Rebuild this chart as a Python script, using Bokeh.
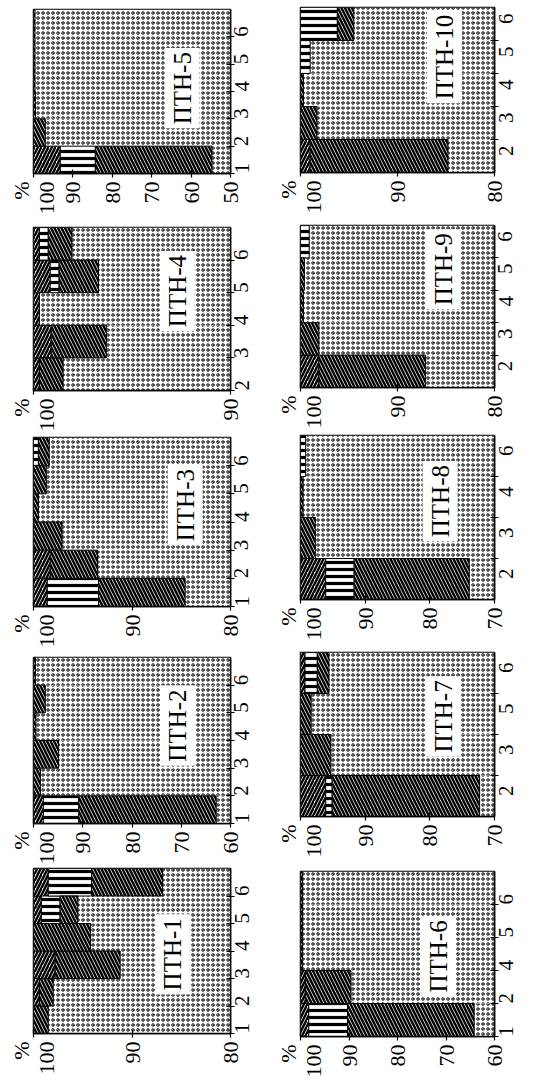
import math
from bokeh.plotting import figure
from bokeh.models import Range1d, FixedTicker, Label, ColumnDataSource
from bokeh.layouts import column, row
from bokeh.embed import file_html
from bokeh.resources import INLINE

# ---------------- data ----------------
PANEL_NAMES = ["ПТН-1", "ПТН-2", "ПТН-3", "ПТН-4", "ПТН-5",
               "ПТН-6", "ПТН-7", "ПТН-8", "ПТН-9", "ПТН-10"]

CATEGORIES = [
    ["1", "2", "3", "4", "5", "6"],   # ПТН-1
    ["1", "2", "3", "4", "5", "6"],   # ПТН-2
    ["1", "2", "3", "4", "5", "6"],   # ПТН-3
    ["2", "3", "4", "5", "6"],        # ПТН-4
    ["1", "2", "3", "4", "5", "6"],   # ПТН-5
    ["1", "2", "4", "5", "6"],        # ПТН-6
    ["2", "3", "5", "6"],             # ПТН-7
    ["2", "3", "4", "6"],             # ПТН-8
    ["2", "3", "4", "5", "6"],        # ПТН-9
    ["2", "3", "4", "5", "6"],        # ПТН-10
]

AXIS_MIN = [80, 60, 80, 90, 50, 60, 70, 70, 80, 80]
LABEL_CENTERED = [False, False, False, False, False, False, True, True, True, True]
UNIT = "%"

# share (%) of the "/" hatched component
SEG_SLASH = [
    [0.0, 0.6, 2.2, 0.0, 0.8, 1.5],
    [2.0, 0.0, 0.0, 0.0, 0.0, 0.0],
    [1.4, 1.7, 0.0, 0.0, 0.0, 0.0],
    [0.3, 0.9, 0.3, 0.85, 0.3],
    [6.8, 0.0, 0.0, 0.0, 0.0, 0.0],
    [1.7, 1.0, 0.0, 0.0, 0.0],
    [3.9, 0.0, 0.0, 0.7],
    [3.9, 0.0, 0.0, 0.0],
    [1.9, 0.0, 0.0, 0.0, 0.0],
    [1.0, 0.0, 0.0, 0.0, 0.0],
]
# share (%) of the striped component
SEG_STRIPE = [
    [0.0, 0.0, 0.0, 0.0, 1.9, 4.4],
    [7.2, 0.0, 0.0, 0.0, 0.0, 0.0],
    [5.2, 0.0, 0.0, 0.0, 0.0, 0.5],
    [0.0, 0.0, 0.0, 0.45, 0.45],
    [8.9, 0.0, 0.0, 0.0, 0.0, 0.0],
    [8.0, 0.0, 0.0, 0.0, 0.0],
    [1.0, 0.0, 0.0, 1.9],
    [4.4, 0.0, 0.0, 0.8],
    [0.0, 0.0, 0.0, 0.0, 0.9],
    [0.0, 0.0, 0.0, 1.0, 3.8],
]
# share (%) of the "\" hatched component
SEG_BACKSLASH = [
    [1.5, 1.4, 6.6, 5.8, 1.8, 7.2],
    [27.9, 1.4, 5.1, 0.5, 2.4, 0.4],
    [8.8, 4.8, 2.9, 0.5, 1.3, 1.1],
    [1.2, 2.8, 0.0, 2.0, 1.2],
    [29.6, 3.0, 0.5, 0.4, 0.4, 0.4],
    [26.1, 9.4, 0.4, 0.4, 0.4],
    [22.8, 4.7, 1.65, 1.8],
    [17.8, 2.3, 0.4, 0.0],
    [11.0, 1.9, 0.3, 0.4, 0.0],
    [14.2, 1.7, 0.3, 0.0, 1.7],
]

# ---------------- layout / style ----------------
FONT = "Liberation Serif"
# (frame_width, frame_height, border_left, border_right, border_top, border_bottom)
GEOM = [
    (197, 165, 33, 35, 1, 54),   # ПТН-1
    (197, 166, 33, 35, 5, 44),   # ПТН-2
    (197, 169, 33, 35, 3, 46),   # ПТН-3
    (197, 163, 33, 35, 5, 44),   # ПТН-4
    (197, 164, 33, 35, 9, 49),   # ПТН-5
    (194, 165, 35, 60, 5, 51),   # ПТН-6
    (194, 164, 35, 60, 5, 50),   # ПТН-7
    (194, 164, 35, 60, 3, 48),   # ПТН-8
    (194, 162, 35, 60, 5, 45),   # ПТН-9
    (194, 165, 35, 60, 7, 48),   # ПТН-10
]
# title position as fraction of the frame (from left, from bottom)
TITLE_POS = [(0.705, 0.48), (0.733, 0.59), (0.77, 0.60), (0.73, 0.61), (0.754, 0.52),
             (0.71, 0.485), (0.737, 0.61), (0.72, 0.60), (0.737, 0.73), (0.742, 0.70)]

STYLES = [
    dict(hatch_pattern="right_diagonal_line", hatch_scale=7, hatch_weight=2.5,
         line_color="black"),
    dict(hatch_pattern="horizontal_line", hatch_scale=7, hatch_weight=3.2,
         line_color="black"),
    dict(hatch_pattern="left_diagonal_line", hatch_scale=7, hatch_weight=2.5,
         line_color="black"),
    dict(hatch_pattern="ring", hatch_scale=5, hatch_weight=1.0, line_color=None),
]


def make_panel(k):
    cats = CATEGORIES[k]
    n = len(cats)
    vmin = AXIS_MIN[k]
    fw, fh, bl, br, bt, bb = GEOM[k]
    p = figure(frame_width=fw, frame_height=fh,
               x_range=Range1d(100, vmin), y_range=Range1d(0, n),
               output_backend="svg", toolbar_location=None,
               y_axis_location="right",
               min_border_left=bl, min_border_right=br,
               min_border_top=bt, min_border_bottom=bb)
    p.title.visible = False
    p.xgrid.visible = False
    p.ygrid.visible = False
    p.outline_line_color = "black"
    p.outline_line_width = 1.5
    p.outline_line_alpha = 1.0
    p.background_fill_color = "white"
    p.border_fill_color = "white"

    # stacked segments, starting from 100 % and going down
    segs = [dict(y=[], left=[], right=[]) for _ in range(4)]
    for i in range(n):
        start = 100.0
        parts = [SEG_SLASH[k][i], SEG_STRIPE[k][i], SEG_BACKSLASH[k][i]]
        for j, w in enumerate(parts):
            if w > 0:
                segs[j]["y"].append(i + 0.5)
                segs[j]["left"].append(start)
                segs[j]["right"].append(start - w)
                start -= w
        segs[3]["y"].append(i + 0.5)
        segs[3]["left"].append(start)
        segs[3]["right"].append(vmin)
    for j in [3, 0, 1, 2]:
        if not segs[j]["y"]:
            continue
        src = ColumnDataSource(segs[j])
        p.hbar(y="y", left="left", right="right", height=1.0, source=src,
               fill_color="white", hatch_color="black", hatch_alpha=1.0,
               line_width=1.0, **STYLES[j])

    # value axis (below)
    xa = p.xaxis[0]
    xticks = list(range(vmin, 101, 10))
    xa.ticker = FixedTicker(ticks=xticks, minor_ticks=[])
    xa.major_label_overrides = {100: UNIT + "\n100"}
    xa.major_label_orientation = math.pi / 2
    xa.major_label_text_font = FONT
    xa.major_label_text_font_size = "22px"
    xa.major_label_text_color = "black"
    xa.major_label_text_line_height = 1.0
    xa.major_label_standoff = 4
    xa.major_tick_in = 4
    xa.major_tick_out = 4
    xa.minor_tick_in = 0
    xa.minor_tick_out = 0
    xa.axis_line_width = 1.5
    xa.major_tick_line_width = 1.2

    # category axis (right)
    ya = p.yaxis[0]
    if LABEL_CENTERED[k]:
        ticks = [i + 0.5 for i in range(n)]
        ya.ticker = FixedTicker(ticks=ticks, minor_ticks=list(range(1, n)))
        ya.major_tick_in = 0
        ya.major_tick_out = 0
        ya.minor_tick_in = 4
        ya.minor_tick_out = 4
        ya.minor_tick_line_width = 1.2
    else:
        ticks = list(range(n))
        ya.ticker = FixedTicker(ticks=ticks, minor_ticks=[])
        ya.major_tick_in = 4
        ya.major_tick_out = 4
        ya.minor_tick_in = 0
        ya.minor_tick_out = 0
    ya.major_label_overrides = {t: c for t, c in zip(ticks, cats)}
    ya.major_label_orientation = math.pi / 2
    ya.major_label_text_font = FONT
    ya.major_label_text_font_size = "21px"
    ya.major_label_text_color = "black"
    ya.major_label_standoff = 7
    ya.axis_line_width = 1.5
    ya.major_tick_line_width = 1.2

    # panel name
    fx, fy = TITLE_POS[k]
    p.add_layout(Label(x=100 - fx * (100 - vmin), y=fy * n, text=PANEL_NAMES[k],
                       angle=math.pi / 2, text_align="center", text_baseline="middle",
                       text_font=FONT, text_font_size="25px", text_color="black",
                       background_fill_color="white", padding=4))
    return p


panels = [make_panel(k) for k in range(10)]
left_col = column(panels[4], panels[3], panels[2], panels[1], panels[0], spacing=0)
right_col = column(panels[9], panels[8], panels[7], panels[6], panels[5], spacing=0)
layout = row(left_col, right_col, spacing=0)

open("out.html", "w").write(file_html(layout, INLINE))
